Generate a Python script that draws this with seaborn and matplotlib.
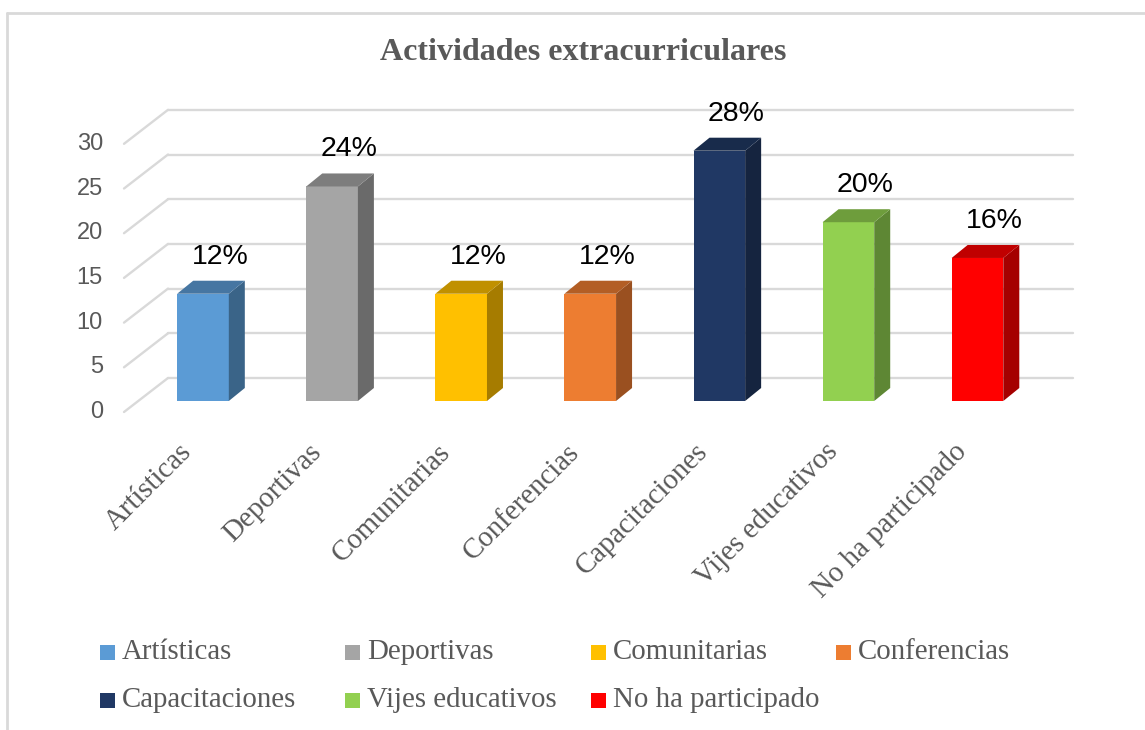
import matplotlib
matplotlib.use("Agg")
import matplotlib.pyplot as plt
import matplotlib.transforms as mtrans
from matplotlib.patches import Polygon, Rectangle
from matplotlib.lines import Line2D
import seaborn as sns
import pandas as pd

# ---------------- data ----------------
categories = ["Artísticas", "Deportivas", "Comunitarias", "Conferencias",
              "Capacitaciones", "Vijes educativos", "No ha participado"]
values = [12, 24, 12, 12, 28, 20, 16]
value_labels = ["12%", "24%", "12%", "12%", "28%", "20%", "16%"]
yticks = [0, 5, 10, 15, 20, 25, 30]
title = "Actividades extracurriculares"

front_colors = ["#5B9BD5", "#A5A5A5", "#FFC000", "#ED7D31", "#203864", "#92D050", "#FF0000"]
side_colors = ["#3A6488", "#6A6A6A", "#A67C00", "#9A5020", "#15243F", "#5E8734", "#A50000"]
top_colors = ["#4676A2", "#7D7D7D", "#C09000", "#B35E25", "#182B4B", "#6E9D3C", "#C00000"]

df = pd.DataFrame({"cat": categories, "val": values})

# ---------------- figure ----------------
sns.set_style("white")
plt.rcParams["font.family"] = ["Liberation Sans", "DejaVu Sans"]

W, H = 1145, 730
fig = plt.figure(figsize=(W / 100, H / 100), dpi=100)


def rect(x0, y0, x1, y1):
    return [x0 / W, 1 - y1 / H, (x1 - x0) / W, (y1 - y0) / H]


ax = fig.add_axes(rect(124, 90, 1073, 412))

sns.barplot(data=df, x="cat", y="val", hue="cat", palette=front_colors,
            width=0.40, dodge=False, legend=False, ax=ax, zorder=3,
            saturation=1, edgecolor="none", linewidth=0)

ax.set_xlim(-0.612, 6.740)
ax.set_ylim(-1.230, 34.79)
for s in ax.spines.values():
    s.set_visible(False)
ax.set_xticks([])
ax.set_yticks([])
ax.set_xlabel("")
ax.set_ylabel("")

fig.canvas.draw()
ident = mtrans.IdentityTransform()
grid_c = "#D9D9D9"

# back wall + side wall gridlines
ax_left, ax_bottom = ax.transAxes.transform((0, 0))
ax_right, _ = ax.transAxes.transform((1, 0))
for v in yticks:
    yf = ax.transData.transform((0, v))[1]
    yb = yf + 23
    ax.add_line(Line2D([ax_left + 44, ax_right], [yb, yb], color=grid_c, lw=1.7,
                       transform=ident, zorder=1, clip_on=False))
    ax.add_line(Line2D([ax_left, ax_left + 44], [yb - 34, yb], color=grid_c, lw=1.7,
                       transform=ident, zorder=1, clip_on=False))
    ax.text(ax_left - 21, yb - 34, str(v), transform=ident, ha="right", va="center",
            fontsize=17, color="#595959")

# 3D faces for bars
DX, DY = 16, 13
for i, p in enumerate(ax.patches):
    x0, y0 = ax.transData.transform((p.get_x(), p.get_y()))
    x1, y1 = ax.transData.transform((p.get_x() + p.get_width(), p.get_y() + p.get_height()))
    side = Polygon([(x1, y0), (x1 + DX, y0 + DY), (x1 + DX, y1 + DY), (x1, y1)],
                   closed=True, facecolor=side_colors[i], edgecolor="none",
                   transform=ident, zorder=3)
    top = Polygon([(x0, y1), (x1, y1), (x1 + DX, y1 + DY), (x0 + DX, y1 + DY)],
                  closed=True, facecolor=top_colors[i], edgecolor="none",
                  transform=ident, zorder=3)
    ax.add_patch(side)
    ax.add_patch(top)

# value labels
for i, (v, lab) in enumerate(zip(values, value_labels)):
    ax.annotate(lab, xy=(i, v), xytext=(17, 37), textcoords="offset pixels",
                ha="center", va="center", fontsize=20.5, color="black",
                annotation_clip=False, zorder=5)

# category labels (rotated)
serif = ["Liberation Serif", "DejaVu Serif"]
lab_tr = mtrans.offset_copy(ax.transData, fig=fig, x=-15, y=-47, units="dots")
for i, c in enumerate(categories):
    ax.text(i, 0, c, transform=lab_tr, rotation=45, rotation_mode="anchor",
            ha="right", va="center", fontsize=20.8, color="#595959", family=serif,
            clip_on=False)

# title
fig.text(583 / W, 1 - 53 / H, title, ha="center", va="center", fontsize=23,
         fontweight="bold", color="#595959", family=serif)

# legend (manual, equal-width columns like the source)
for k, c in enumerate(categories):
    col, row = k % 4, k // 4
    x = 100 + 245.3 * col
    yc = 652 + 48 * row
    fig.add_artist(Rectangle((x / W, 1 - (yc + 7.5) / H), 15 / W, 15 / H,
                             transform=fig.transFigure, facecolor=front_colors[k],
                             edgecolor="none"))
    fig.text((x + 22) / W, 1 - yc / H, c, ha="left", va="center", fontsize=20.8,
             color="#595959", family=serif)

# outer frame (left and top edges visible)
fig.add_artist(Line2D([7 / W, 7 / W], [0, 1 - 13 / H], transform=fig.transFigure,
                      color="#D9D9D9", lw=2))
fig.add_artist(Line2D([7 / W, 1], [1 - 13 / H, 1 - 13 / H], transform=fig.transFigure,
                      color="#D9D9D9", lw=2))

fig.savefig("out.png", dpi=100)
